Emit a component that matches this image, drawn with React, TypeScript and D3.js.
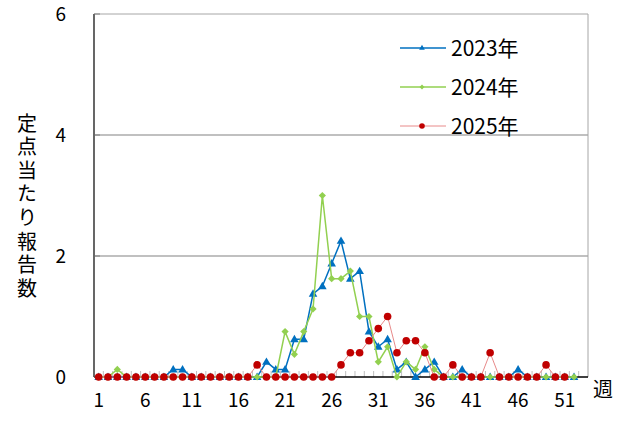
import React from "react";
import * as d3 from "d3";

const weeks: number[] = Array.from({ length: 53 }, (_, i) => i + 1);
const tickWeeks: number[] = [1, 6, 11, 16, 21, 26, 31, 36, 41, 46, 51];
const yTicks: number[] = [0, 2, 4, 6];

const s2023: number[] = [
  0, 0, 0, 0, 0, 0, 0, 0, 0.125, 0.125,
  0, 0, 0, 0, 0, 0, 0, 0, 0.25, 0.125,
  0.125, 0.625, 0.625, 1.375, 1.5, 1.875, 2.25, 1.625, 1.75, 0.75,
  0.5, 0.625, 0.125, 0.25, 0, 0.125, 0.25, 0, 0, 0.125,
  0, 0, 0, 0, 0, 0.125, 0, 0, 0, 0,
  0, 0,
];
const s2024: number[] = [
  0, 0, 0.125, 0, 0, 0, 0, 0, 0, 0,
  0, 0, 0, 0, 0, 0, 0, 0, 0, 0,
  0.75, 0.375, 0.75, 1.125, 3.0, 1.625, 1.625, 1.75, 1.0, 1.0,
  0.25, 0.5, 0, 0.25, 0.125, 0.5, 0.125, 0, 0, 0,
  0, 0, 0, 0, 0, 0, 0, 0, 0, 0,
  0, 0,
];
const s2025: number[] = [
  0, 0, 0, 0, 0, 0, 0, 0, 0, 0,
  0, 0, 0, 0, 0, 0, 0, 0.2, 0, 0,
  0, 0, 0, 0, 0, 0, 0.2, 0.4, 0.4, 0.6,
  0.8, 1.0, 0.4, 0.6, 0.6, 0.4, 0, 0, 0.2, 0,
  0, 0, 0.4, 0, 0, 0, 0, 0, 0.2, 0,
  0,
];
const seriesNames: string[] = ["2023年", "2024年", "2025年"];
const yLabel = "定点当たり報告数";
const xLabel = "週";

const FONT = "'Noto Sans CJK JP', 'Noto Sans', sans-serif";

export default function App() {
  const W = 633, H = 421;
  const left = 94, right = 588, top = 14, bottom = 377;
  const x = d3.scaleBand<number>().domain(weeks).range([left, right]).padding(0);
  const y = d3.scaleLinear().domain([0, 6]).range([bottom, top]);
  const cx = (w: number) => (x(w) as number) + x.bandwidth() / 2;

  const line = d3.line<number>().x((_, i) => cx(i + 1)).y((d) => y(d));

  const series = [
    { name: seriesNames[0], data: s2023, line: "#0070c0", lw: 1.5, marker: "#0070c0", kind: "tri" },
    { name: seriesNames[1], data: s2024, line: "#92d050", lw: 1.5, marker: "#92d050", kind: "dia" },
    { name: seriesNames[2], data: s2025, line: "#e88a8a", lw: 1, marker: "#c00000", kind: "cir" },
  ];

  const triPath = d3.symbol(d3.symbolTriangle, 32)()!;
  const triSmall = d3.symbol(d3.symbolTriangle, 14)()!;
  const sqPath = d3.symbol(d3.symbolSquare, 26)()!;
  const sqSmall = d3.symbol(d3.symbolSquare, 12)()!;

  const marker = (kind: string, color: string, px: number, py: number, key: any, small = false) => {
    if (kind === "tri")
      return <path key={key} d={small ? triSmall : triPath} transform={`translate(${px},${py + (small ? 0 : 0.5)})`} fill={color} />;
    if (kind === "dia")
      return <path key={key} d={small ? sqSmall : sqPath} transform={`translate(${px},${py}) rotate(45)`} fill={color} />;
    return <circle key={key} cx={px} cy={py} r={small ? 2.8 : 3.8} fill={color} />;
  };

  const legendRows = [48, 87, 126];

  return (
    <svg width={W} height={H} style={{ position: "absolute", left: 0, top: 0, background: "#fff" }} fontFamily={FONT}>
      <rect x={0} y={0} width={W} height={H} fill="#fff" />
      {/* gridlines */}
      {yTicks.filter((t) => t > 0).map((t) => (
        <line key={t} x1={left} x2={right} y1={y(t)} y2={y(t)} stroke={t === 6 ? "#a6a6a6" : "#c0c0c0"} strokeWidth={t === 6 ? 1 : 2} />
      ))}
      <line x1={right} x2={right} y1={top} y2={bottom} stroke="#a6a6a6" strokeWidth={1} />
      {/* x ticks (inner) */}
      {weeks.slice(1).map((w) => (
        <line key={w} x1={x(w) as number} x2={x(w) as number} y1={bottom} y2={bottom - 6} stroke="#bfbfbf" strokeWidth={1} />
      ))}
      {/* axes */}
      <line x1={left} x2={left} y1={top} y2={bottom} stroke="#000" strokeWidth={1.2} />
      <line x1={left} x2={right} y1={bottom} y2={bottom} stroke="#000" strokeWidth={1.5} />
      {yTicks.map((t) => (
        <line key={t} x1={left} x2={left + 6} y1={y(t)} y2={y(t)} stroke="#808080" strokeWidth={1} />
      ))}
      {/* y tick labels */}
      {yTicks.map((t) => (
        <text key={t} x={66} y={y(t)} dy="0.36em" textAnchor="end" fontSize={19} fill="#000">{t}</text>
      ))}
      {/* x tick labels */}
      {tickWeeks.map((w) => (
        <text key={w} x={cx(w)} y={407} textAnchor="middle" fontSize={19} fill="#000">{w}</text>
      ))}
      {/* y label vertical */}
      <text x={27} y={113} fontSize={20} fill="#000" letterSpacing={3.6}
        style={{ writingMode: "vertical-rl", textOrientation: "upright" } as any}>{yLabel}</text>
      <text x={603} y={390} dy="0.36em" textAnchor="middle" fontSize={20} fill="#000">{xLabel}</text>
      {/* series */}
      {series.map((s, si) => (
        <g key={si}>
          <path d={line(s.data)!} fill="none" stroke={s.line} strokeWidth={s.lw} />
          {s.data.map((v, i) => marker(s.kind, s.marker, cx(i + 1), y(v), i))}
        </g>
      ))}
      {/* legend */}
      {series.map((s, i) => (
        <g key={i}>
          <line x1={400} x2={446} y1={legendRows[i]} y2={legendRows[i]} stroke={s.line} strokeWidth={s.lw} />
          {marker(s.kind, s.marker, 422, legendRows[i], "m", true)}
          <text x={451} y={legendRows[i]} dy="0.36em" fontSize={21} fill="#000">{s.name}</text>
        </g>
      ))}
    </svg>
  );
}
